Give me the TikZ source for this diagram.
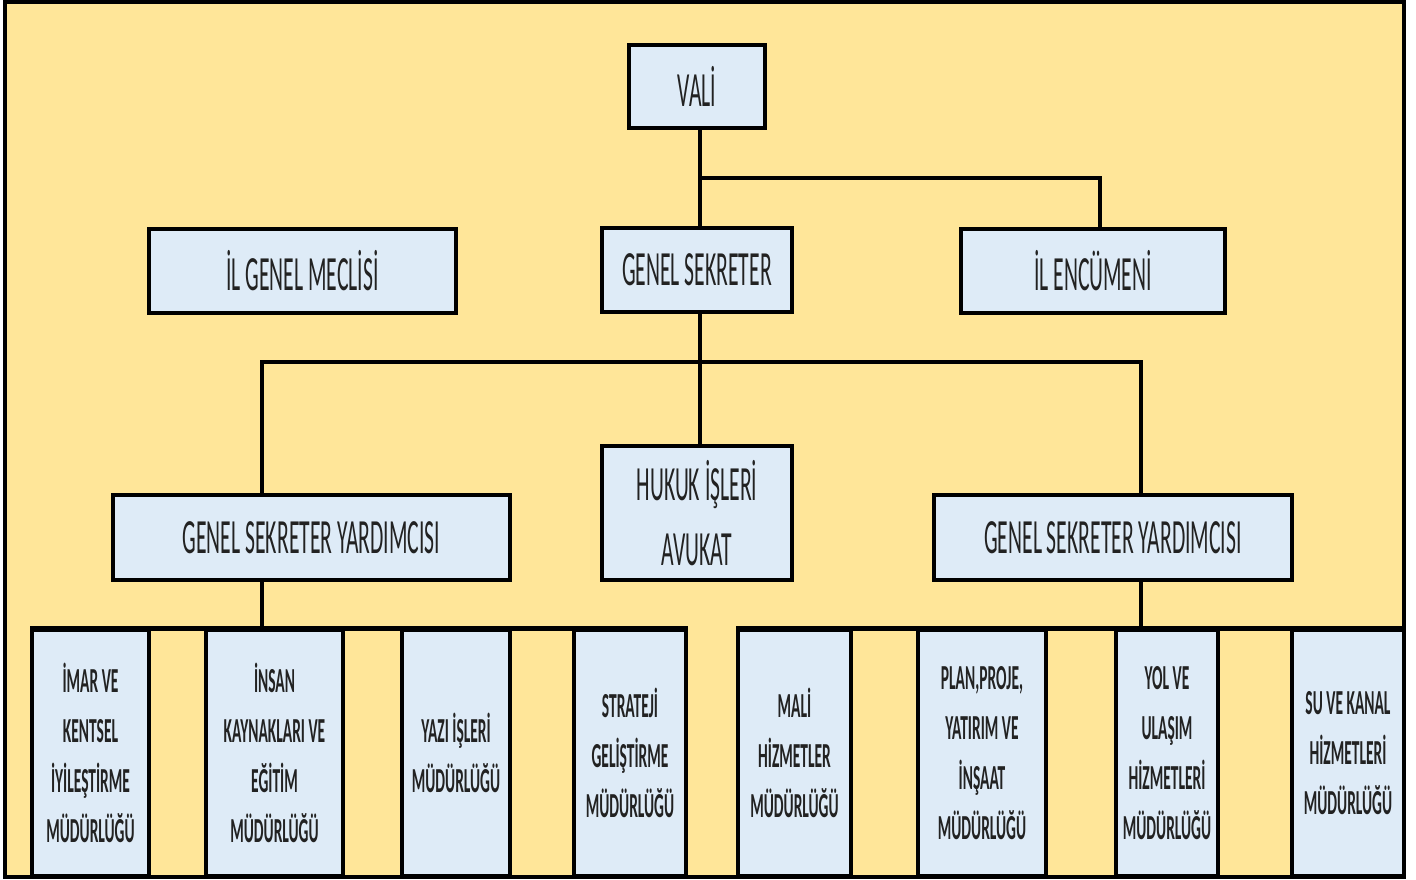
\documentclass[tikz,border=0pt]{standalone}
\usepackage{fontspec}
\setmainfont{Carlito}[FakeStretch=0.44]
\usepackage{xcolor}
\usepackage{tikz}
\usetikzlibrary{positioning,calc}
\definecolor{zeminsari}{RGB}{255,230,153}
\definecolor{kutumavi}{RGB}{222,235,247}
\definecolor{yazigri}{RGB}{34,34,34}

\begin{document}
\begin{tikzpicture}[
    kutu/.style={draw=black, fill=kutumavi, line width=1.1pt, text=yazigri,
        align=center, inner sep=0pt, font=\fontsize{14}{18.5}\selectfont},
    birim/.style={draw=black, fill=kutumavi, line width=0.9pt, text=yazigri,
        align=center, inner sep=0pt, minimum height=2.46cm,
        font=\fontsize{10}{14.2}\selectfont\bfseries},
    hat/.style={draw=black, line width=0.9pt},
    ustbar/.style={draw=black, line width=1.3pt}
]
\useasboundingbox (0,0) rectangle (14.16,8.79);

% zemin ve cerceve
\draw[fill=zeminsari, line width=1.2pt] (0.05,0.02) rectangle (14.04,8.77);

% ust kademe
\node[kutu, minimum width=1.36cm, minimum height=0.83cm] (vali) at (6.97,7.925) {VALİ};
\node[kutu, minimum width=1.90cm, minimum height=0.84cm] (gensek) at (6.97,6.09) {GENEL SEKRETER};
\node[kutu, minimum width=3.07cm, minimum height=0.84cm] (meclis) at (3.025,6.08) {İL GENEL MECLİSİ};
\node[kutu, minimum width=2.64cm, minimum height=0.84cm] (encumen) at (10.93,6.08) {İL ENCÜMENİ};

% orta kademe
\node[kutu, minimum width=1.90cm, minimum height=1.34cm] (hukuk) at (6.97,3.66) {HUKUK İŞLERİ\\AVUKAT};
\node[kutu, minimum width=3.97cm, minimum height=0.85cm] (gsyL) at (3.115,3.415) {GENEL SEKRETER YARDIMCISI};
\node[kutu, minimum width=3.58cm, minimum height=0.85cm] (gsyR) at (11.13,3.415) {GENEL SEKRETER YARDIMCISI};

% mudurlukler
\node[birim, minimum width=1.17cm] (m1) at (0.905,1.26) {İMAR VE\\KENTSEL\\İYİLEŞTİRME\\MÜDÜRLÜĞÜ};
\node[birim, minimum width=1.37cm] (m2) at (2.745,1.26) {İNSAN\\KAYNAKLARI VE\\EĞİTİM\\MÜDÜRLÜĞÜ};
\node[birim, minimum width=1.08cm] (m3) at (4.56,1.26) {YAZI İŞLERİ\\MÜDÜRLÜĞÜ};
\node[birim, minimum width=1.12cm] (m4) at (6.30,1.26) {STRATEJİ\\GELİŞTİRME\\MÜDÜRLÜĞÜ};
\node[birim, minimum width=1.13cm] (m5) at (7.945,1.26) {MALİ\\HİZMETLER\\MÜDÜRLÜĞÜ};
\node[birim, minimum width=1.28cm] (m6) at (9.82,1.26) {PLAN,PROJE,\\YATIRIM VE\\İNŞAAT\\MÜDÜRLÜĞÜ};
\node[birim, minimum width=1.02cm] (m7) at (11.67,1.26) {YOL VE\\ULAŞIM\\HİZMETLERİ\\MÜDÜRLÜĞÜ};
\node[birim, minimum width=1.12cm] (m8) at (13.48,1.26) {SU VE KANAL\\HİZMETLERİ\\MÜDÜRLÜĞÜ};

% baglanti noktalari
\coordinate (dal) at (7.00,7.01);
\coordinate (barL) at (2.62,5.17);
\coordinate (barR) at (11.41,5.17);

% vali -> genel sekreter, encumen
\draw[hat] (vali.south -| dal) -- (gensek.north -| dal);
\draw[hat] (dal) -| ([xshift=0.07cm]encumen.north);

% genel sekreter -> yardimcilar, hukuk
\draw[hat] (gensek.south -| dal) -- (hukuk.north -| dal);
\draw[hat] (gsyL.north -| barL) -- (barL) -- (barR) -- (gsyR.north -| barR);

% yardimcilar -> mudurlukler
\draw[hat] (gsyL.south -| barL) -- (m1.north -| barL);
\draw[hat] (gsyR.south -| barR) -- (m5.north -| barR);
\draw[ustbar] (m1.north west) -- (m4.north east);
\draw[ustbar] (m5.north west) -- (m8.north east);

\end{tikzpicture}
\end{document}
